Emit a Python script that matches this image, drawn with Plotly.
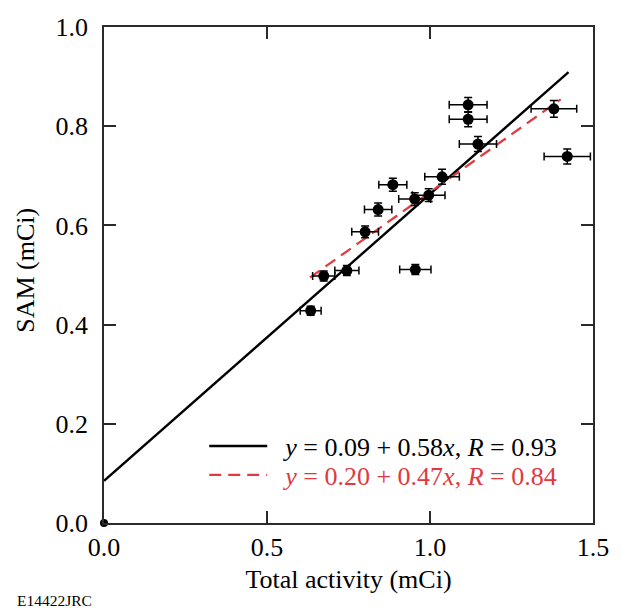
import plotly.graph_objects as go

# Measured data (Total activity vs SAM, mCi)
total_activity = [0.634, 0.674, 0.745, 0.801, 0.841, 0.886, 0.953, 0.955, 0.996, 1.037,
                  1.117, 1.117, 1.147, 1.380, 1.421]
sam = [0.428, 0.498, 0.509, 0.587, 0.632, 0.682, 0.653, 0.511, 0.661, 0.698,
       0.843, 0.814, 0.764, 0.835, 0.739]
total_err = [0.032, 0.034, 0.037, 0.041, 0.042, 0.043, 0.049, 0.048, 0.050, 0.053,
             0.058, 0.058, 0.057, 0.070, 0.071]
sam_err = [0.009, 0.010, 0.010, 0.012, 0.013, 0.013, 0.013, 0.010, 0.013, 0.015,
           0.015, 0.015, 0.015, 0.017, 0.015]

origin_x = [0.0]
origin_y = [0.0]

# Fit lines (endpoints)
fit_all_x = [0.0, 1.425]
fit_all_y = [0.085, 0.909]
fit_sub_x = [0.632, 1.401]
fit_sub_y = [0.495, 0.854]

x_ticks = [0.0, 0.5, 1.0, 1.5]
x_ticklabels = ["0.0", "0.5", "1.0", "1.5"]
y_ticks = [0.0, 0.2, 0.4, 0.6, 0.8, 1.0]
y_ticklabels = ["0.0", "0.2", "0.4", "0.6", "0.8", "1.0"]

RED = "#e0393e"
label_all = "&nbsp;&nbsp;<i>y</i> = 0.09 + 0.58<i>x</i>, <i>R</i> = 0.93"
label_sub = "&nbsp;&nbsp;<i>y</i> = 0.20 + 0.47<i>x</i>, <i>R</i> = 0.84"

FONT = "Liberation Serif"

fig = go.Figure()

fig.add_trace(go.Scatter(
    x=fit_all_x, y=fit_all_y, mode="lines",
    line=dict(color="black", width=2.4),
    name=label_all, showlegend=True, legend="legend",
))
fig.add_trace(go.Scatter(
    x=fit_sub_x, y=fit_sub_y, mode="lines",
    line=dict(color=RED, width=2.2, dash="12px,7px"),
    name=label_sub, showlegend=True, legend="legend2",
))
fig.add_trace(go.Scatter(
    x=total_activity, y=sam, mode="markers",
    marker=dict(color="black", size=11),
    error_x=dict(type="data", array=total_err, color="black", thickness=1.5, width=4),
    error_y=dict(type="data", array=sam_err, color="black", thickness=1.5, width=4),
    showlegend=False,
))
fig.add_trace(go.Scatter(
    x=origin_x, y=origin_y, mode="markers",
    marker=dict(color="black", size=8),
    cliponaxis=False, showlegend=False,
))

axis_common = dict(
    showline=True, linecolor="#2a2a2a", linewidth=1.8, mirror="ticks",
    ticks="inside", ticklen=12, tickwidth=1.6, tickcolor="#2a2a2a",
    showgrid=False, zeroline=False,
    tickfont=dict(family=FONT, size=26, color="black"),
)

legend_common = dict(
    x=0.205, xanchor="left", yanchor="middle",
    bgcolor="rgba(0,0,0,0)", borderwidth=0,
    itemwidth=58, tracegroupgap=0,
)

fig.update_layout(
    width=621, height=608,
    margin=dict(l=104, r=18, t=27, b=85),
    paper_bgcolor="white", plot_bgcolor="white",
    font=dict(family=FONT, size=26, color="black"),
    xaxis=dict(range=[0, 1.5], tickvals=x_ticks, ticktext=x_ticklabels,
               title=dict(text="Total activity (mCi)", font=dict(family=FONT, size=26), standoff=9),
               **axis_common),
    yaxis=dict(range=[0, 1.0], tickvals=y_ticks, ticktext=y_ticklabels,
               ticklabelstandoff=9,
               **axis_common),
    legend=dict(y=0.155, font=dict(family=FONT, size=26, color="black"), **legend_common),
    legend2=dict(y=0.097, font=dict(family=FONT, size=26, color=RED), **legend_common),
    annotations=[
        dict(
            text="SAM (mCi)", xref="paper", yref="paper", x=-0.162, y=0.51,
            xanchor="center", yanchor="middle", textangle=-90, showarrow=False,
            font=dict(family=FONT, size=26, color="black"),
        ),
        dict(
            text="E14422JRC", xref="paper", yref="paper", x=-0.182, y=-0.157,
            xanchor="left", yanchor="middle", showarrow=False,
            font=dict(family=FONT, size=15.5, color="black"),
        ),
    ],
)

fig.write_html("out.html")
